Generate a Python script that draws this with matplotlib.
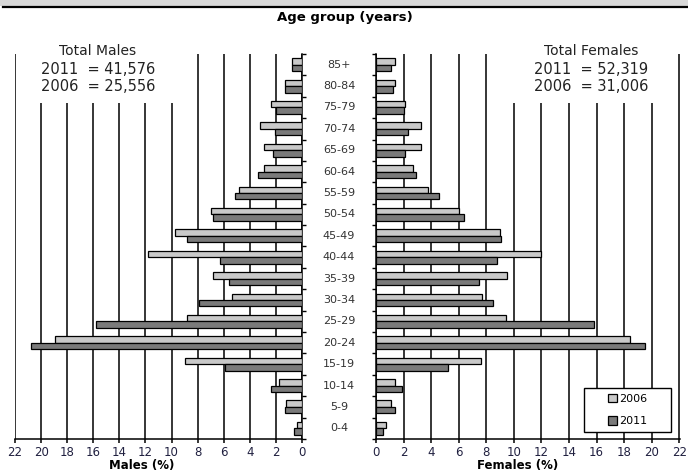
import numpy as np
import matplotlib
matplotlib.use('Agg')
import matplotlib.pyplot as plt
from matplotlib.patches import Rectangle
from matplotlib.transforms import blended_transform_factory

# Age groups from youngest (bottom) to oldest (top)
age_groups = ['0-4', '5-9', '10-14', '15-19', '20-24', '25-29', '30-34', '35-39',
              '40-44', '45-49', '50-54', '55-59', '60-64', '65-69', '70-74',
              '75-79', '80-84', '85+']

males_2006 = [0.4, 1.2, 1.8, 9.0, 18.9, 8.8, 5.4, 6.8, 11.8, 9.7, 7.0, 4.8,
              2.9, 2.9, 3.2, 2.4, 1.3, 0.8]
males_2011 = [0.6, 1.3, 2.4, 5.9, 20.8, 15.8, 7.9, 5.6, 6.3, 8.8, 6.8, 5.1,
              3.4, 2.2, 2.1, 2.0, 1.3, 0.8]
females_2006 = [0.7, 1.1, 1.4, 7.6, 18.4, 9.4, 7.7, 9.5, 12.0, 9.0, 6.0, 3.8,
                2.7, 3.3, 3.3, 2.1, 1.4, 1.4]
females_2011 = [0.5, 1.4, 1.9, 5.2, 19.5, 15.8, 8.5, 7.5, 8.8, 9.1, 6.4, 4.6,
                2.9, 2.1, 2.3, 2.0, 1.2, 1.1]

xticks = list(range(0, 23, 2))
light = '#c9c9c9'
dark = '#7a7a7a'
tick_color = '#202040'

fig = plt.figure(figsize=(6.88, 4.73), dpi=100)

# header strip
fig.patches.append(Rectangle((0, 1 - 6 / 473), 1, 6 / 473, transform=fig.transFigure,
                             facecolor='#d8d8d8', edgecolor='none'))
fig.add_artist(plt.Line2D([3 / 688, 1], [1 - 7.5 / 473, 1 - 7.5 / 473],
                          transform=fig.transFigure, color='black', lw=1.6))

ax_l = fig.add_axes([15 / 688, 1 - 439 / 473, 287 / 688, 385 / 473])
ax_r = fig.add_axes([376 / 688, 1 - 439 / 473, 304 / 688, 385 / 473])

y = np.arange(len(age_groups))
h = 0.3

for ax, v06, v11 in [(ax_l, males_2006, males_2011), (ax_r, females_2006, females_2011)]:
    ax.barh(y + h / 2, v06, height=h, color=light, edgecolor='black', linewidth=0.9,
            label='2006', zorder=3)
    ax.barh(y - h / 2, v11, height=h, color=dark, edgecolor='black', linewidth=0.9,
            label='2011', zorder=3)
    ax.set_ylim(-0.5, len(age_groups) - 0.5)
    ax.set_xticks(xticks)
    ax.set_yticks(np.arange(-0.5, len(age_groups), 1))
    ax.set_yticklabels([])
    ax.grid(axis='x', color='black', lw=1.1, zorder=0)
    ax.set_axisbelow(True)
    ax.tick_params(axis='x', direction='out', length=3, width=1.1, labelsize=8.5,
                   labelcolor=tick_color, pad=2)
    ax.tick_params(axis='y', direction='out', length=3, width=1)
    ax.spines['top'].set_visible(False)
    for s in ax.spines.values():
        s.set_linewidth(1.1)
    # white box behind the totals text
    ax.add_patch(Rectangle((9, 15.2), 12, 2.4, facecolor='white', edgecolor='none', zorder=1))

ax_l.set_xlim(22, 0)
ax_l.yaxis.tick_right()
ax_l.spines['left'].set_visible(False)
ax_r.set_xlim(0, 22.05)
ax_r.spines['right'].set_visible(False)

# age group labels in the middle gap
trans = blended_transform_factory(fig.transFigure, ax_r.transData)
for i, lab in enumerate(age_groups):
    fig.text(339 / 688, i, lab, transform=trans, ha='center', va='center',
             fontsize=8, color='#333333')

fig.text(345 / 688, 1 - 17 / 473, 'Age group (years)', ha='center', va='center',
         fontsize=9.5, fontweight='bold')

fig.text(98 / 688, 1 - 51 / 473, 'Total Males', ha='center', va='center', fontsize=10, color='#222222')
fig.text(98 / 688, 1 - 69 / 473, '2011  = 41,576', ha='center', va='center', fontsize=10.5, color='#222222')
fig.text(98 / 688, 1 - 86 / 473, '2006  = 25,556', ha='center', va='center', fontsize=10.5, color='#222222')
fig.text(591 / 688, 1 - 51 / 473, 'Total Females', ha='center', va='center', fontsize=10, color='#222222')
fig.text(591 / 688, 1 - 69 / 473, '2011  = 52,319', ha='center', va='center', fontsize=10.5, color='#222222')
fig.text(591 / 688, 1 - 86 / 473, '2006  = 31,006', ha='center', va='center', fontsize=10.5, color='#222222')

fig.text(142 / 688, 1 - 465 / 473, 'Males (%)', ha='center', va='center', fontsize=8.5, fontweight='bold')
fig.text(518 / 688, 1 - 465 / 473, 'Females (%)', ha='center', va='center', fontsize=8.5, fontweight='bold')

# legend with a separate frame box
fig.patches.append(Rectangle((584 / 688, 1 - 432 / 473), 87 / 688, 44 / 473,
                             transform=fig.transFigure, facecolor='white',
                             edgecolor='black', lw=1.0, zorder=4))
handles, labels = ax_r.get_legend_handles_labels()
leg = fig.legend(handles, labels, loc='center', bbox_to_anchor=(628 / 688, 1 - 410 / 473),
                 frameon=False, fontsize=8, handlelength=0.8, handleheight=0.8,
                 handletextpad=0.2, labelspacing=1.1, borderpad=0.3, borderaxespad=0)
leg.set_zorder(5)

plt.savefig('out.png', dpi=100)
